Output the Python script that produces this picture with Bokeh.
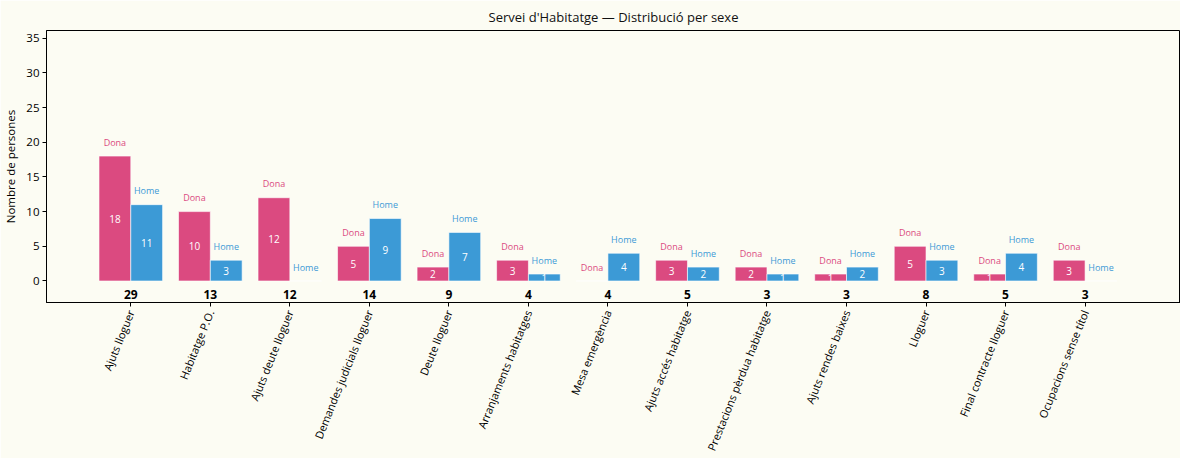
import math
from bokeh.plotting import figure
from bokeh.models import ColumnDataSource, FixedTicker, Range1d
from bokeh.core.properties import value
from bokeh.embed import file_html
from bokeh.resources import INLINE

categories = ["Ajuts lloguer", "Habitatge P.O.", "Ajuts deute lloguer",
              "Demandes judicials lloguer", "Deute lloguer", "Arranjaments habitatges",
              "Mesa emergència", "Ajuts accés habitatge", "Prestacions pèrdua habitatge",
              "Ajuts rendes baixes", "Lloguer", "Final contracte lloguer",
              "Ocupacions sense títol"]
dona = [18, 10, 12, 5, 2, 3, 0, 3, 2, 1, 5, 1, 3]
home = [11, 3, 0, 9, 7, 1, 4, 2, 1, 2, 3, 4, 0]
totals = [d + h for d, h in zip(dona, home)]
y_ticks = [0, 5, 10, 15, 20, 25, 30, 35]

PINK = "#DB4A80"
BLUE = "#3C9AD6"
BG = "#FCFCF3"
FONT = "Open Sans"

idx = list(range(len(categories)))
xd = [i - 0.2 for i in idx]
xh = [i + 0.2 for i in idx]

p = figure(width=1180, height=458, output_backend="svg", toolbar_location=None,
           x_range=Range1d(-1.06, 13.2), y_range=Range1d(-3.1, 36.1),
           min_border_left=42, min_border_right=0, min_border_top=20,
           min_border_bottom=150,
           title="Servei d'Habitatge — Distribució per sexe")
p.background_fill_color = BG
p.border_fill_color = BG
p.outline_line_color = "black"
p.outline_line_width = 1
p.xgrid.visible = False
p.ygrid.visible = False

p.title.align = "center"
p.title.text_font = FONT
p.title.text_font_size = "13px"
p.title.text_font_style = "normal"
p.title.text_color = "#111111"

src_d = ColumnDataSource(dict(x=xd, top=dona, lab=[str(v) if v > 0 else "" for v in dona],
                              ymid=[v / 2 for v in dona], ylab=[v + 2 for v in dona],
                              name=["Dona"] * len(dona)))
src_h = ColumnDataSource(dict(x=xh, top=home, lab=[str(v) if v > 0 else "" for v in home],
                              ymid=[v / 2 for v in home], ylab=[v + 2 for v in home],
                              name=["Home"] * len(home)))
src_t = ColumnDataSource(dict(x=idx, y=[-1.9] * len(idx), t=[str(v) for v in totals]))

p.vbar(x="x", top="top", bottom=0, width=0.4, source=src_d, fill_color=PINK,
       line_color="white", line_width=0.6)
p.vbar(x="x", top="top", bottom=0, width=0.4, source=src_h, fill_color=BLUE,
       line_color="white", line_width=0.6)

for src, col in ((src_d, PINK), (src_h, BLUE)):
    p.text(x="x", y="ymid", text="lab", source=src, text_color="white",
           text_font=value(FONT), text_font_size="10px", text_align="center",
           text_baseline="middle")
    p.text(x="x", y="ylab", text="name", source=src, text_color=col,
           text_font=value(FONT), text_font_size="9px", text_align="center",
           text_baseline="middle")

p.text(x="x", y="y", text="t", source=src_t, text_color="black",
       text_font=value(FONT), text_font_size="12px", text_font_style="bold",
       text_align="center", text_baseline="middle")

p.xaxis.ticker = FixedTicker(ticks=idx)
p.xaxis.major_label_overrides = {i: c for i, c in zip(idx, categories)}
p.xaxis.major_label_orientation = math.radians(68)
p.yaxis.ticker = FixedTicker(ticks=y_ticks)
p.yaxis.axis_label = "Nombre de persones"

for ax in (p.xaxis, p.yaxis):
    ax.axis_line_color = "black"
    ax.major_tick_line_color = "black"
    ax.minor_tick_line_color = None
    ax.major_tick_out = 4
    ax.major_tick_in = 0
    ax.major_label_text_font = FONT
    ax.major_label_text_color = "black"
    ax.axis_label_text_font = FONT
    ax.axis_label_text_font_style = "normal"
    ax.axis_label_text_color = "black"

p.xaxis.major_label_text_font_size = "11px"
p.xaxis.major_label_standoff = 4
p.yaxis.major_label_text_font_size = "11.5px"
p.yaxis.axis_label_text_font_size = "11.5px"
p.yaxis.axis_label_standoff = 5
p.yaxis.major_label_standoff = 3

open("out.html", "w").write(file_html(p, INLINE))
